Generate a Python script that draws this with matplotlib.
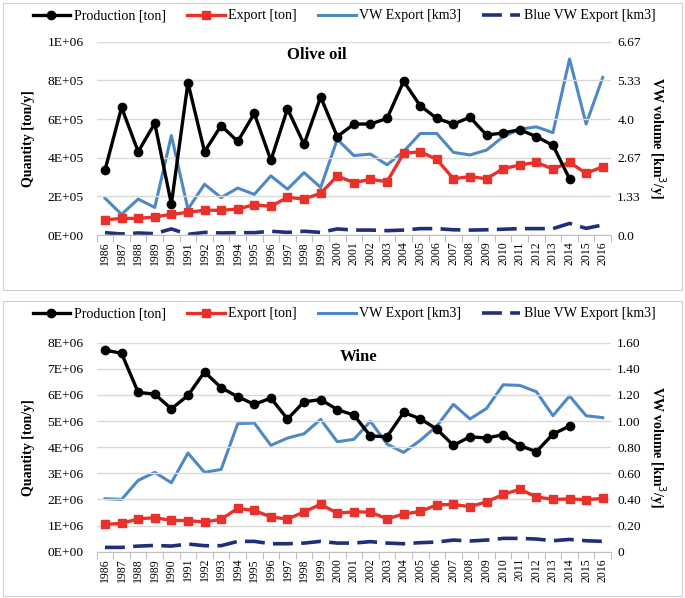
import matplotlib
matplotlib.use("Agg")
import matplotlib.pyplot as plt
import numpy as np
from matplotlib.lines import Line2D
from matplotlib.patches import Rectangle

plt.rcParams['font.family'] = ['Liberation Serif', 'DejaVu Serif']

years = list(range(1986, 2017))

# Olive oil
oil_prod = [3.36e5, 6.60e5, 4.31e5, 5.78e5, 1.60e5, 7.88e5, 4.31e5, 5.66e5, 4.84e5, 6.29e5,
            3.86e5, 6.53e5, 4.69e5, 7.14e5, 5.09e5, 5.74e5, 5.74e5, 6.03e5, 7.95e5, 6.69e5,
            6.03e5, 5.74e5, 6.09e5, 5.17e5, 5.28e5, 5.45e5, 5.09e5, 4.64e5, 2.91e5]
oil_exp = [0.78e5, 0.86e5, 0.86e5, 0.93e5, 1.07e5, 1.17e5, 1.28e5, 1.28e5, 1.34e5, 1.57e5,
           1.48e5, 1.95e5, 1.86e5, 2.16e5, 3.05e5, 2.71e5, 2.88e5, 2.76e5, 4.22e5, 4.31e5,
           3.91e5, 2.91e5, 3.02e5, 2.91e5, 3.43e5, 3.62e5, 3.76e5, 3.41e5, 3.76e5, 3.19e5, 3.53e5]
oil_vw = [1.27, 0.71, 1.24, 0.95, 3.43, 0.89, 1.75, 1.29, 1.62, 1.40,
          2.04, 1.58, 2.15, 1.64, 3.30, 2.74, 2.79, 2.42, 2.88, 3.50,
          3.50, 2.85, 2.76, 2.93, 3.39, 3.65, 3.73, 3.53, 6.07, 3.83, 5.43]
oil_blue = [0.08, 0.035, 0.07, 0.046, 0.21, 0.023, 0.09, 0.07, 0.08, 0.08,
            0.13, 0.09, 0.13, 0.09, 0.21, 0.17, 0.17, 0.15, 0.17, 0.22,
            0.22, 0.18, 0.17, 0.18, 0.20, 0.22, 0.22, 0.22, 0.40, 0.23, 0.345]

# Wine
wine_prod = [7.72e6, 7.59e6, 6.10e6, 6.03e6, 5.47e6, 5.98e6, 6.88e6, 6.28e6, 5.93e6, 5.64e6,
             5.88e6, 5.08e6, 5.74e6, 5.82e6, 5.44e6, 5.23e6, 4.43e6, 4.40e6, 5.33e6, 5.09e6,
             4.69e6, 4.07e6, 4.40e6, 4.35e6, 4.48e6, 4.06e6, 3.83e6, 4.50e6, 4.81e6]
wine_exp = [1.05e6, 1.08e6, 1.26e6, 1.30e6, 1.20e6, 1.19e6, 1.135e6, 1.24e6, 1.66e6, 1.58e6,
            1.33e6, 1.25e6, 1.52e6, 1.82e6, 1.47e6, 1.53e6, 1.51e6, 1.26e6, 1.44e6, 1.54e6,
            1.79e6, 1.81e6, 1.72e6, 1.91e6, 2.19e6, 2.39e6, 2.10e6, 2.00e6, 2.02e6, 1.99e6, 2.04e6]
wine_vw = [0.406, 0.40, 0.546, 0.607, 0.528, 0.755, 0.607, 0.63, 0.98, 0.985,
           0.814, 0.87, 0.903, 1.013, 0.842, 0.86, 0.998, 0.824, 0.760, 0.852,
           0.962, 1.128, 1.016, 1.097, 1.278, 1.273, 1.225, 1.041, 1.192, 1.041, 1.026]
wine_blue = [0.033, 0.033, 0.043, 0.048, 0.043, 0.059, 0.046, 0.046, 0.079, 0.079,
             0.061, 0.061, 0.066, 0.079, 0.066, 0.066, 0.077, 0.066, 0.061, 0.069,
             0.074, 0.089, 0.082, 0.089, 0.102, 0.102, 0.097, 0.084, 0.094, 0.084, 0.079]

oil_left_ticks = [0, 2e5, 4e5, 6e5, 8e5, 1e6]
oil_left_labels = ['0E+00', '2E+05', '4E+05', '6E+05', '8E+05', '1E+06']
oil_right_ticks = [0, 1.333, 2.667, 4.0, 5.333, 6.667]
oil_right_labels = ['0.0', '1.33', '2.67', '4.0', '5.33', '6.67']
wine_left_ticks = [i * 1e6 for i in range(9)]
wine_left_labels = ['0E+00'] + ['%dE+06' % i for i in range(1, 9)]
wine_right_ticks = [0, 0.2, 0.4, 0.6, 0.8, 1.0, 1.2, 1.4, 1.6]
wine_right_labels = ['0', '0.20', '0.40', '0.60', '0.80', '1.00', '1.20', '1.40', '1.60']

C_PROD = '#000000'
C_EXP = '#E8312A'
C_VW = '#4F88C6'
C_BLUE = '#1F2F78'
GRID = '#D9D9D9'
DASH = (5.5, 2.3)

W, H = 685, 598
fig = plt.figure(figsize=(W / 100, H / 100), dpi=100)

# panel borders
for (x0, y0, x1, y1) in [(3, 3, 682, 290), (3, 301, 682, 596)]:
    fig.patches.append(Rectangle((x0 / W, 1 - y1 / H), (x1 - x0) / W, (y1 - y0) / H,
                                 transform=fig.transFigure, fill=False,
                                 edgecolor='#D0D0D0', lw=0.8))

FS_Y = 9.7
FS_X = 8.5
FS_LEG = 10.1
FS_LAB = 10.1


def panel(top_px, bot_px, prod, exp, vw, blue, lt, ll, rt, rl, ymax, rmax, title, title_x, legend_y):
    left_px, right_px = 96.7, 611.0
    ax = fig.add_axes([left_px / W, 1 - bot_px / H, (right_px - left_px) / W, (bot_px - top_px) / H])
    ax2 = ax.twinx()
    x = np.arange(len(years))
    ax.set_xlim(-0.5, len(years) - 0.5)
    ax.set_ylim(0, ymax)
    ax2.set_ylim(0, rmax)
    ax.set_yticks(lt)
    ax.set_yticklabels(ll, fontsize=FS_Y)
    ax2.set_yticks(rt)
    ax2.set_yticklabels(rl, fontsize=FS_Y)
    ax.set_xticks(x)
    ax.set_xticklabels([str(y) for y in years], rotation=90, fontsize=FS_X)
    ax.set_xticks(np.arange(-0.5, len(years), 1), minor=True)
    ax.tick_params(axis='x', which='major', length=0, pad=4.5)
    ax.tick_params(axis='x', which='minor', length=5, color='#BFBFBF', width=0.8)
    ax.tick_params(axis='y', length=0, pad=9.5)
    ax2.tick_params(axis='y', length=0, pad=4.5)
    for a in (ax, ax2):
        for s in a.spines.values():
            s.set_visible(False)
    ax.spines['bottom'].set_visible(True)
    ax.spines['bottom'].set_color('#BFBFBF')
    ax.spines['bottom'].set_linewidth(0.8)
    ax.grid(axis='y', color=GRID, lw=1.0)
    ax.set_axisbelow(True)

    ax2.plot(x[:len(blue)], blue, color=C_BLUE, lw=2.6, dashes=DASH, zorder=2)
    ax2.plot(x[:len(vw)], vw, color=C_VW, lw=2.2, zorder=3)
    ax.plot(x[:len(exp)], exp, color=C_EXP, lw=2.4, marker='s', ms=6, zorder=4)
    ax.plot(x[:len(prod)], prod, color=C_PROD, lw=2.4, marker='o', ms=6, zorder=5)
    ax.set_zorder(ax2.get_zorder() + 1)
    ax.patch.set_visible(False)

    ax.set_ylabel('Quantity [ton/y]', fontsize=FS_LAB, fontweight='bold', labelpad=9)
    ax2.set_ylabel('VW volume [km$^3$/y]', fontsize=FS_LAB, fontweight='bold', rotation=-90, labelpad=19)
    ax.text(title_x, 0.93, title, transform=ax.transAxes, fontsize=12, fontweight='bold',
            ha='left', va='center')

    handles = [Line2D([], [], color=C_PROD, lw=2.4, marker='o', ms=6),
               Line2D([], [], color=C_EXP, lw=2.4, marker='s', ms=6),
               Line2D([], [], color=C_VW, lw=2.2),
               Line2D([], [], color=C_BLUE, lw=2.6, dashes=DASH)]
    labels = ['Production [ton]', 'Export [ton]', 'VW Export [km3]', 'Blue VW Export [km3]']
    fig.legend(handles, labels, loc='center', bbox_to_anchor=(344 / W, 1 - legend_y / H),
               ncol=4, frameon=False, fontsize=FS_LEG, handlelength=2.7, handletextpad=0.25,
               columnspacing=1.5, borderpad=0, borderaxespad=0)
    return ax, ax2


panel(41.7, 235.0, oil_prod, oil_exp, oil_vw, oil_blue, oil_left_ticks, oil_left_labels,
      oil_right_ticks, oil_right_labels, 1e6, 6.667, 'Olive oil', (287 - 96.7) / 514.3, 16)
panel(342.7, 551.7, wine_prod, wine_exp, wine_vw, wine_blue, wine_left_ticks, wine_left_labels,
      wine_right_ticks, wine_right_labels, 8e6, 1.6, 'Wine', (340 - 96.7) / 514.3, 314)

fig.savefig('out.png', dpi=100)
